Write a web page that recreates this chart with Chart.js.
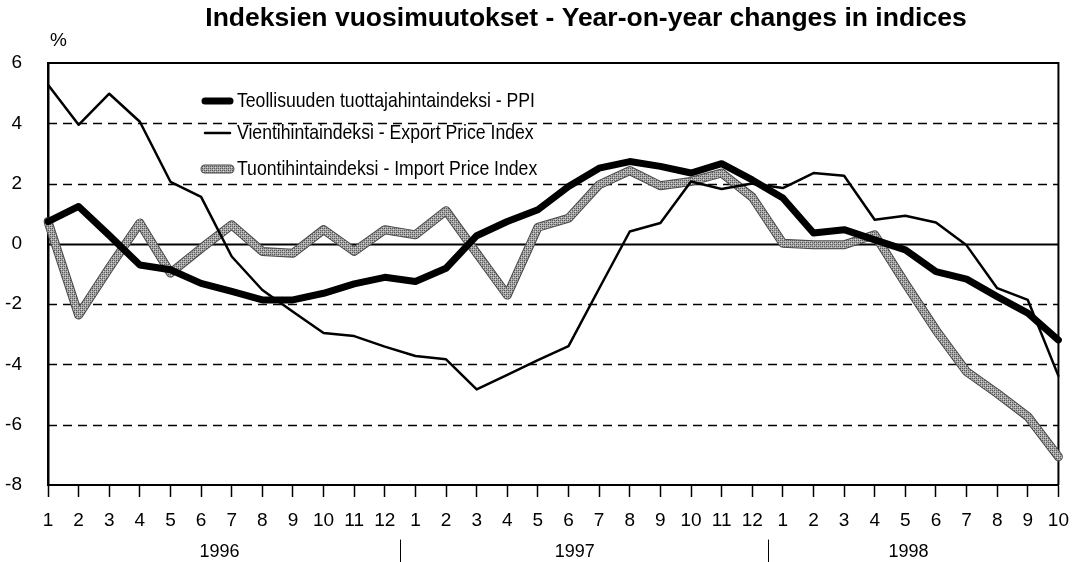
<!DOCTYPE html>
<html>
<head>
<meta charset="utf-8">
<script src="https://cdn.jsdelivr.net/npm/chart.js@4/dist/chart.umd.min.js"></script>
<style>
  html, body { margin: 0; padding: 0; background: #fff; }
  #wrap { width: 1081px; height: 562px; }
</style>
</head>
<body>
<div id="wrap"><canvas id="chart" width="1081" height="562"></canvas></div>
<script>
// month labels: 1996 (12), 1997 (12), 1998 (1-10)
const months = ['1','2','3','4','5','6','7','8','9','10','11','12',
                '1','2','3','4','5','6','7','8','9','10','11','12',
                '1','2','3','4','5','6','7','8','9','10'];
const years = ['1996', '1997', '1998'];

// year-on-year change, %
const ppi = [0.74, 1.24, 0.28, -0.70, -0.86, -1.31, -1.58, -1.86, -1.86, -1.64, -1.33, -1.11,
             -1.25, -0.81, 0.27, 0.74, 1.13, 1.90, 2.51, 2.73, 2.57, 2.35, 2.66, 2.12,
             1.52, 0.36, 0.47, 0.13, -0.20, -0.92, -1.17, -1.75, -2.30, -3.19];
const exportPrices = [5.28, 3.95, 4.98, 4.05, 2.06, 1.56, -0.42, -1.53, -2.25, -2.96, -3.06, -3.41,
                      -3.72, -3.83, -4.83, -4.35, -3.86, -3.39, -1.48, 0.41, 0.69, 2.07, 1.82, 2.00,
                      1.85, 2.35, 2.26, 0.80, 0.93, 0.71, -0.05, -1.47, -1.86, -4.38];
const importPrices = [0.74, -2.36, -0.80, 0.69, -0.97, -0.15, 0.63, -0.25, -0.31, 0.47, -0.25, 0.47,
                      0.30, 1.10, -0.31, -1.70, 0.55, 0.85, 1.96, 2.43, 1.93, 2.07, 2.35, 1.55,
                      0.02, -0.03, -0.03, 0.30, -1.31, -2.86, -4.24, -4.96, -5.73, -7.06];

const seriesNames = ['Teollisuuden tuottajahintaindeksi - PPI',
                     'Vientihintaindeksi - Export Price Index',
                     'Tuontihintaindeksi - Import Price Index'];

const FONT = '"Liberation Sans", Arial, sans-serif';

// stippled grey for the import line
function makeStipple() {
    const c = document.createElement('canvas');
    c.width = 4; c.height = 4;
    const g = c.getContext('2d');
    g.fillStyle = '#a6a6a6';
    g.fillRect(0, 0, 4, 4);
    g.fillStyle = '#5a5a5a';
    g.fillRect(0, 0, 1, 1); g.fillRect(2, 2, 1, 1);
    g.fillRect(2, 0, 1, 1); g.fillRect(0, 2, 1, 1);
    g.fillStyle = '#d4d4d4';
    g.fillRect(1, 1, 1, 1); g.fillRect(3, 3, 1, 1);
    return g.createPattern(c, 'repeat');
}
const stipple = makeStipple();

// gridlines, frame, title, legend, years
const decorations = {
    id: 'decorations',
    beforeDatasetsDraw(chart) {
        const {ctx, chartArea: a, scales: {y}} = chart;
        ctx.save();
        ctx.strokeStyle = '#000';
        y.ticks.forEach(t => {
            if (t.value === 6 || t.value === -8) return;
            const py = Math.round(y.getPixelForValue(t.value)) + 0.5;
            ctx.beginPath();
            if (t.value === 0) { ctx.setLineDash([]); ctx.lineWidth = 2; }
            else { ctx.setLineDash([9, 6]); ctx.lineWidth = 1.5; }
            ctx.moveTo(a.left, py);
            ctx.lineTo(a.right, py);
            ctx.stroke();
        });
        ctx.setLineDash([]);
        ctx.lineWidth = 2;
        ctx.beginPath();
        ctx.moveTo(a.left, a.top);
        ctx.lineTo(a.right, a.top);
        ctx.lineTo(a.right, a.bottom);
        ctx.stroke();
        ctx.restore();
    },
    afterDraw(chart) {
        const {ctx, scales: {x}} = chart;
        ctx.save();
        ctx.fillStyle = '#000';
        ctx.textBaseline = 'middle';

        ctx.font = 'bold 26.5px ' + FONT;
        ctx.textAlign = 'center';
        ctx.fillText('Indeksien vuosimuutokset - Year-on-year changes in indices', 586, 19, 762);

        ctx.font = '19px ' + FONT;
        ctx.textAlign = 'left';
        ctx.fillText('%', 50, 41);

        // legend, condensed type like the original
        const rows = [101, 133, 169];
        ctx.font = '21px ' + FONT;
        const squeeze = 298 / ctx.measureText(seriesNames[0]).width;
        const shown = chart.data.datasets.filter(ds => ds.label);
        shown.forEach((ds, i) => {
            const ly = rows[i];
            ctx.lineCap = 'round';
            if (i === 2) {
                ctx.beginPath();
                ctx.strokeStyle = '#4a4a4a';
                ctx.lineWidth = 9;
                ctx.moveTo(205, ly);
                ctx.lineTo(230, ly);
                ctx.stroke();
            }
            ctx.beginPath();
            ctx.strokeStyle = ds.borderColor;
            ctx.lineWidth = ds.borderWidth;
            ctx.moveTo(205, ly);
            ctx.lineTo(230, ly);
            ctx.stroke();
            ctx.fillStyle = '#000';
            ctx.textAlign = 'left';
            const w = ctx.measureText(ds.label).width;
            ctx.fillText(ds.label, 237, ly, w * squeeze);
        });

        // year labels and separators
        const px = v => {
            const i = Math.floor(v), f = v - i;
            return x.getPixelForValue(i) + f * (x.getPixelForValue(i + 1) - x.getPixelForValue(i));
        };
        ctx.font = '18px ' + FONT;
        ctx.textAlign = 'center';
        const yearPos = [5.6, 17.2, 28.1];
        years.forEach((yr, i) => ctx.fillText(yr, px(yearPos[i]), 552));
        ctx.strokeStyle = '#000';
        ctx.lineWidth = 1;
        [11.5, 23.5].forEach(v => {
            const sx = Math.round(px(v)) + 0.5;
            ctx.beginPath();
            ctx.moveTo(sx, 540);
            ctx.lineTo(sx, 562);
            ctx.stroke();
        });
        ctx.restore();
    }
};

new Chart(document.getElementById('chart'), {
    type: 'line',
    data: {
        labels: months,
        datasets: [
            {
                label: seriesNames[0],
                data: ppi,
                borderColor: '#000',
                borderWidth: 7,
                order: 0
            },
            {
                label: seriesNames[1],
                data: exportPrices,
                borderColor: '#000',
                borderWidth: 2.5,
                order: 1
            },
            {
                label: seriesNames[2],
                data: importPrices,
                borderColor: stipple,
                borderWidth: 7,
                order: 2
            },
            {
                // dark rim under the stippled import band
                label: '',
                data: importPrices,
                borderColor: '#4a4a4a',
                borderWidth: 9,
                order: 3
            }
        ]
    },
    options: {
        responsive: false,
        animation: false,
        devicePixelRatio: 1,
        layout: { padding: { top: 63, right: 11, left: 0, bottom: 0 } },
        elements: {
            point: { radius: 0 },
            line: { tension: 0, borderJoinStyle: 'round', borderCapStyle: 'round', fill: false }
        },
        plugins: {
            legend: { display: false },
            title: { display: false },
            tooltip: { enabled: false }
        },
        scales: {
            x: {
                type: 'category',
                offset: false,
                grid: { drawOnChartArea: false, drawTicks: true, tickLength: 12, tickColor: '#000', tickWidth: 1.5 },
                border: { display: true, color: '#000', width: 2 },
                ticks: { color: '#000', font: { family: FONT, size: 19 }, padding: 12, maxRotation: 0, minRotation: 0, autoSkip: false },
                afterFit: s => { s.height = 77; }
            },
            y: {
                min: -8,
                max: 6,
                grid: { display: false, drawTicks: false },
                border: { display: true, color: '#000', width: 2.5 },
                ticks: { stepSize: 2, color: '#000', font: { family: FONT, size: 19 }, padding: 26 },
                afterFit: s => { s.width = 48; }
            }
        }
    },
    plugins: [decorations]
});
</script>
</body>
</html>
